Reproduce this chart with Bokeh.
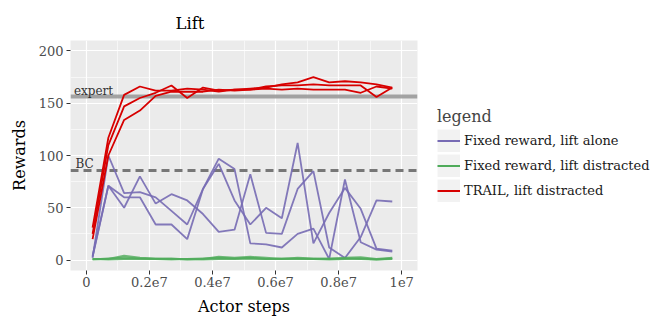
from bokeh.plotting import figure
from bokeh.models import FixedTicker, Legend, LegendItem, Range1d
from bokeh.core.properties import value
from bokeh.embed import file_html
from bokeh.resources import INLINE

# ---------------- data ----------------
steps = [0.2e6, 0.7e6, 1.2e6, 1.7e6, 2.2e6, 2.7e6, 3.2e6, 3.7e6, 4.2e6, 4.7e6,
         5.2e6, 5.7e6, 6.2e6, 6.7e6, 7.2e6, 7.7e6, 8.2e6, 8.7e6, 9.2e6, 9.7e6]

alone_seed1 = [2, 100, 64, 65, 60, 47, 34, 68, 92, 57, 34, 50, 40, 112, 16, 45, 69, 49, 11, 9]
alone_seed2 = [3, 71, 50, 80, 54, 63, 57, 44, 27, 29, 82, 26, 25, 68, 85, 12, 2, 22, 57, 56]
alone_seed3 = [4, 71, 60, 60, 34, 34, 20, 68, 97, 87, 16, 15, 12, 25, 30, 1, 77, 17, 10, 8]

distracted_seed1 = [1, 1, 4, 2, 1.5, 1, 1, 1.5, 2, 1.5, 2, 1, 1.5, 1.5, 1, 1.5, 1.5, 1, 0.5, 1.5]
distracted_seed2 = [0.5, 1.5, 2, 1.5, 1, 1.5, 0.5, 1, 3, 2, 3, 2, 1, 2, 1.5, 1, 2, 2.5, 1, 2]
distracted_seed3 = [1, 0.5, 1, 1, 1, 0.5, 1, 0.5, 1, 1, 1.5, 1, 1, 1, 1, 0.5, 1, 1.5, 0.5, 1]

trail_seed1 = [31, 117, 158, 166, 162, 162, 164, 163, 161, 163, 164, 165, 168, 170, 175, 170, 171, 170, 168, 165]
trail_seed2 = [25, 110, 147, 155, 160, 167, 155, 165, 162, 163, 163, 166, 167, 167, 168, 167, 167, 167, 156, 165]
trail_seed3 = [20, 100, 134, 143, 157, 161, 161, 161, 163, 162, 163, 164, 163, 164, 163, 163, 163, 160, 166, 164]

series_names = ["Fixed reward, lift alone", "Fixed reward, lift distracted", "TRAIL, lift distracted"]
series_seeds = [[alone_seed1, alone_seed2, alone_seed3],
                [distracted_seed1, distracted_seed2, distracted_seed3],
                [trail_seed1, trail_seed2, trail_seed3]]
series_colors = ["#776bb4", "#4fab5a", "#d70000"]
series_alpha = [0.9, 0.8, 1.0]
series_width = [1.8, 2.2, 1.8]

ref_names = ["expert", "BC"]
ref_values = [156, 86]

x_ticks = [0, 2e6, 4e6, 6e6, 8e6, 10e6]
x_tick_labels = ["0", "0.2e7", "0.4e7", "0.6e7", "0.8e7", "1e7"]
x_minor = [1e6, 3e6, 5e6, 7e6, 9e6]
y_ticks = [0, 50, 100, 150, 200]
y_minor = [25, 75, 125, 175]

FONT = "DejaVu Serif"
NAN = float("nan")

# ---------------- figure ----------------
p = figure(frame_width=347, frame_height=230, output_backend="svg", toolbar_location=None,
           x_range=Range1d(-0.5e6, 10.5e6), y_range=Range1d(-10, 210),
           min_border_left=70, min_border_right=240, min_border_top=40, min_border_bottom=48,
           background_fill_color="#EBEBEB", border_fill_color="white")
p.outline_line_color = None

p.title.text = "Lift"
p.title.align = "left"
p.title.offset = 105
p.title.text_font = FONT
p.title.text_font_size = "16.5px"
p.title.text_font_style = "normal"
p.title.text_color = "black"
p.title.standoff = 16

p.xaxis.ticker = FixedTicker(ticks=x_ticks, minor_ticks=x_minor)
p.yaxis.ticker = FixedTicker(ticks=y_ticks, minor_ticks=y_minor)
p.xaxis.major_label_overrides = {t: l for t, l in zip(x_ticks, x_tick_labels)}
p.xaxis.axis_label = "Actor steps"
p.yaxis.axis_label = "Rewards"
for ax in (p.xaxis[0], p.yaxis[0]):
    ax.axis_line_color = None
    ax.major_tick_line_color = "#333333"
    ax.major_tick_out = 4
    ax.major_tick_in = 0
    ax.minor_tick_out = 0
    ax.minor_tick_in = 0
    ax.major_label_text_font = FONT
    ax.major_label_text_font_size = "13px"
    ax.major_label_text_color = "#4D4D4D"
    ax.axis_label_text_font = FONT
    ax.axis_label_text_font_size = "16px"
    ax.axis_label_text_font_style = "normal"
    ax.axis_label_text_color = "black"
p.xaxis[0].major_label_standoff = 2
p.xaxis[0].axis_label_standoff = 7
p.yaxis[0].major_label_standoff = 3
p.yaxis[0].axis_label_standoff = 7

for g in (p.xgrid[0], p.ygrid[0]):
    g.grid_line_color = "white"
    g.grid_line_width = 1.2
    g.minor_grid_line_color = "white"
    g.minor_grid_line_width = 0.6

# reference lines
p.hspan(y=[ref_values[0]], line_color="#9a9a9a", line_width=4, line_alpha=0.9)
p.hspan(y=[ref_values[1]], line_color="#777777", line_width=3, line_dash="8 5")
p.text(x=[-0.39e6, -0.34e6], y=[v + 5.7 for v in ref_values], text=ref_names,
       text_font=value(FONT), text_font_size="12px", text_color="#333333",
       text_baseline="alphabetic", text_align="left")

# series lines
items = []
for name, seeds, color, alpha, lw in zip(series_names, series_seeds, series_colors,
                                         series_alpha, series_width):
    for s in seeds:
        p.line(steps, s, line_color=color, line_width=lw, line_alpha=alpha)
    key_bg = p.line([NAN], [NAN], line_color="#F2F2F2", line_width=23)
    key_line = p.line([NAN], [NAN], line_color=color, line_width=2)
    items.append(LegendItem(label=name, renderers=[key_bg, key_line]))

legend = Legend(items=items, location=(20, 68), title="legend",
                title_text_font=FONT, title_text_font_size="16px", title_text_font_style="normal",
                title_standoff=3,
                label_text_font=FONT, label_text_font_size="13px", label_text_color="#1a1a1a",
                glyph_width=23, glyph_height=23, label_height=23, label_standoff=4,
                spacing=2, padding=0, margin=0,
                border_line_color=None, background_fill_alpha=0)
p.add_layout(legend, "right")

open("out.html", "w").write(file_html(p, INLINE))
